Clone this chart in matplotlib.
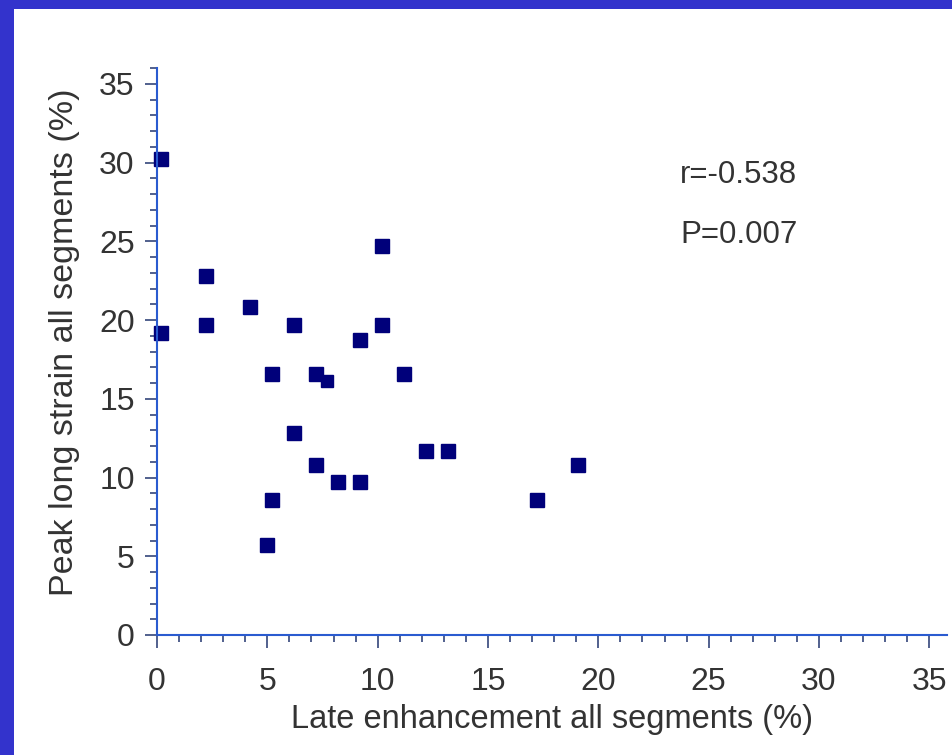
import matplotlib
matplotlib.use("Agg")
import matplotlib.pyplot as plt
from matplotlib.patches import Rectangle
from matplotlib.ticker import MultipleLocator

# late enhancement (%) vs peak long strain (%)
late_enh = [0.2, 0.2, 2.2, 2.2, 4.2, 6.2, 5.2, 7.2, 7.7, 10.2, 10.2, 9.2,
            11.2, 6.2, 7.2, 8.2, 9.2, 5.2, 5.0, 12.2, 13.2, 17.2, 19.1]
peak_strain = [30.2, 19.2, 22.8, 19.7, 20.8, 19.7, 16.6, 16.6, 16.1, 24.7, 19.7, 18.7,
               16.6, 12.8, 10.8, 9.7, 9.7, 8.6, 5.7, 11.7, 11.7, 8.6, 10.8]
xticks = [0, 5, 10, 15, 20, 25, 30, 35]
yticks = [0, 5, 10, 15, 20, 25, 30, 35]
stats = ["r=-0.538", "P=0.007"]

plt.rcParams['font.family'] = ['Liberation Sans', 'DejaVu Sans']

fig = plt.figure(figsize=(9.53, 7.55), dpi=100)
fig.patch.set_facecolor('#3333cc')
fig.patches.append(Rectangle((14/953, 0), 1, 1 - 9/755, transform=fig.transFigure,
                             facecolor='white', edgecolor='none', zorder=0))

ax = fig.add_axes([157/953, 1 - 635/755, 790/953, 567/755])
ax.set_zorder(5)
ax.patch.set_alpha(0)
sizes = [10] * len(late_enh)
sizes[8] = 8
for x, y, s in zip(late_enh, peak_strain, sizes):
    ax.plot(x, y, 's', color='#00007a', markersize=s, clip_on=False)

ax.set_xlim(0, 35.8)
ax.set_ylim(0, 36)
ax.set_xticks(xticks)
ax.set_yticks(yticks)
ax.xaxis.set_minor_locator(MultipleLocator(1))
ax.yaxis.set_minor_locator(MultipleLocator(1))

for side in ['top', 'right']:
    ax.spines[side].set_visible(False)
for side in ['left', 'bottom']:
    ax.spines[side].set_color('#2a5bd0')
    ax.spines[side].set_linewidth(1.5)

ax.tick_params(which='major', length=9, width=1.2, color='#34467a',
               labelsize=23, labelcolor='#333333')
ax.tick_params(which='minor', length=5, width=1.2, color='#34467a')
ax.tick_params(axis='x', which='major', pad=14)
ax.tick_params(axis='y', which='major', pad=7)

ax.set_xlabel('Late enhancement all segments (%)', fontsize=23.5, color='#333333', labelpad=5)
ax.set_ylabel('Peak long strain all segments (%)', fontsize=24.5, color='#333333')
ax.yaxis.set_label_coords(-0.097, 0.517)

ax.text(23.7, 29.2, stats[0], fontsize=22.5, color='#333333', va='center')
ax.text(23.7, 25.4, stats[1], fontsize=22.5, color='#333333', va='center')

fig.savefig('out.png', dpi=100, facecolor=fig.get_facecolor())
